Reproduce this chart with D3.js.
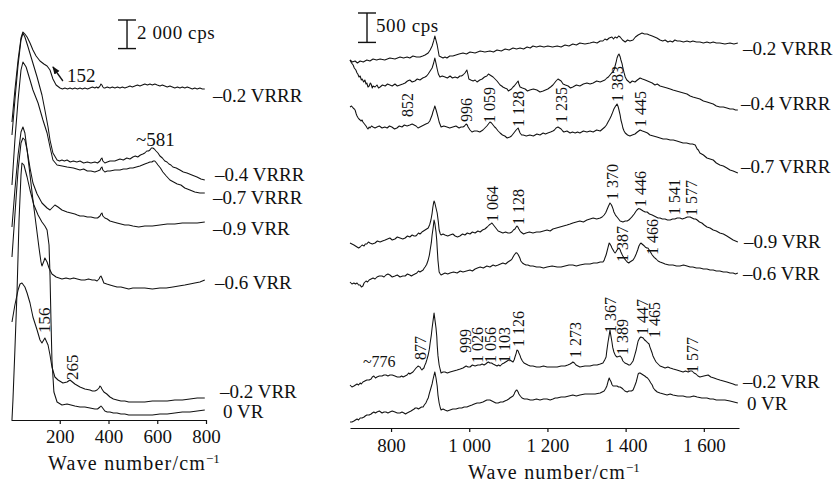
<!DOCTYPE html>
<html lang="en">
<head>
<meta charset="utf-8">
<title>Raman spectra</title>
<script src="https://d3js.org/d3.v7.min.js"></script>
<style>
  body { margin: 0; background: #fff; }
  svg { display: block; font-family: "Liberation Serif", "Times New Roman", serif; }
  .spec { fill: none; stroke: #111; stroke-width: 1.05; stroke-linejoin: round; }
  .lbl { font-size: 19px; fill: #111; }
  .peak { font-size: 16px; fill: #111; }
  .axis path, .axis line { stroke: #111; stroke-width: 1.2; }
  .axis text { font-family: "Liberation Serif", serif; font-size: 19px; fill: #111; }
</style>
</head>
<body>
<svg id="chart" width="835" height="484"></svg>
<script>
// ---- low wavenumber spectra: [wavenumber cm-1, cps incl. stacking offset] ----
var low02VRRR = [[4,20860],[16,23100],[29,25200],[41,26740],[49,27160],[57,27020],[66,26810],[78,26390],[90,25900],[103,25480],[119,25130],[135,24920],[148,24780],[160,24500],[172,23870],[185,23450],[201,23240],[211,23170],[221,23240],[232,23170],[242,23240],[252,23170],[262,23240],[273,23170],[283,23240],[293,23170],[303,23240],[314,23170],[324,23240],[334,23310],[344,23240],[351,23310],[357,23240],[362,23310],[365,23380],[369,23520],[373,23450],[377,23310],[381,23240],[385,23240],[395,23310],[406,23240],[416,23310],[426,23240],[437,23310],[447,23240],[457,23310],[467,23240],[478,23310],[488,23380],[498,23310],[508,23380],[519,23450],[529,23380],[539,23450],[549,23520],[560,23450],[570,23520],[580,23450],[590,23520],[600,23450],[611,23380],[621,23450],[631,23380],[641,23310],[652,23380],[662,23310],[672,23240],[683,23310],[693,23240],[703,23310],[713,23240],[723,23310],[734,23240],[744,23170],[754,23240],[764,23170],[775,23240],[785,23170],[795,23170]];
var low04VRRR = [[4,19950],[16,22400],[29,24850],[41,26600],[49,27090],[57,26810],[70,26110],[86,25200],[107,24010],[127,22750],[139,21700],[152,20510],[160,19600],[172,18690],[189,18200],[199,18130],[209,18200],[219,18130],[230,18200],[243,18060],[256,18130],[270,18060],[283,18130],[298,17990],[313,18060],[328,17990],[344,18060],[355,17990],[365,18130],[369,18270],[373,18340],[377,18130],[385,17990],[395,18060],[406,18130],[426,18130],[447,18270],[461,18200],[475,18340],[488,18270],[500,18410],[510,18480],[520,18410],[531,18550],[541,18620],[549,18690],[557,18830],[564,18830],[570,18900],[576,19040],[582,19040],[588,18970],[595,18830],[603,18690],[611,18480],[621,18340],[631,18130],[640,18060],[648,17920],[656,17850],[664,17710],[678,17640],[693,17500],[707,17360],[722,17290],[742,17150],[763,17010],[779,16870],[795,16800]];
var low07VRRR = [[4,16450],[16,19600],[29,22400],[41,24500],[49,25060],[62,24710],[78,23800],[90,23100],[111,22190],[131,21000],[148,20090],[160,19110],[172,18200],[189,17850],[210,17780],[230,17710],[256,17640],[283,17500],[298,17570],[313,17430],[328,17430],[344,17360],[355,17430],[365,17500],[369,17640],[373,17710],[377,17500],[385,17360],[395,17430],[406,17430],[426,17500],[447,17500],[461,17570],[475,17570],[488,17640],[500,17640],[514,17710],[529,17780],[539,17850],[549,17920],[560,17990],[570,18060],[578,18060],[584,18130],[590,18130],[597,17990],[603,17850],[613,17640],[623,17360],[637,17080],[652,16800],[667,16660],[682,16520],[697,16450],[713,16240],[734,16100],[754,15960],[775,15890],[795,15890]];
var low09VRR = [[4,13510],[16,16100],[29,18550],[41,20160],[49,20510],[57,20090],[66,18900],[78,17640],[90,16590],[107,15820],[127,15190],[148,14840],[160,14700],[172,14910],[180,15050],[193,14910],[209,14700],[230,14560],[246,14490],[262,14420],[272,14350],[283,14280],[298,14280],[313,14210],[328,14210],[344,14140],[355,14140],[365,14280],[369,14420],[373,14490],[377,14280],[385,14140],[395,14070],[406,13930],[420,13860],[435,13790],[451,13720],[467,13650],[483,13650],[500,13580],[524,13510],[549,13580],[580,13580],[611,13650],[641,13720],[672,13720],[703,13790],[734,13790],[764,13790],[795,13860]];
var low06VRR = [[4,11410],[16,14350],[29,17500],[41,19390],[49,19740],[57,19600],[66,18900],[78,17150],[90,15400],[103,13650],[115,12040],[123,11060],[127,10780],[135,11130],[139,11340],[148,11060],[156,10640],[168,10220],[185,10010],[209,9870],[226,9940],[242,9870],[257,9940],[272,9870],[288,9800],[303,9800],[318,9870],[333,9800],[344,9800],[353,9730],[361,9870],[365,10010],[369,10080],[373,9940],[381,9590],[393,9520],[406,9450],[420,9380],[435,9310],[451,9310],[467,9240],[483,9170],[500,9240],[524,9240],[549,9240],[580,9170],[611,9240],[637,9240],[664,9310],[688,9380],[713,9450],[734,9520],[754,9590],[775,9660],[795,9800]];
var low02VRR = [[4,6860],[16,8050],[29,9100],[37,9520],[45,9590],[57,9310],[66,8890],[78,8190],[90,7210],[107,6300],[119,5600],[127,5390],[139,5740],[152,5250],[160,4550],[168,3710],[180,3010],[193,2800],[213,2590],[230,2660],[242,2800],[262,2520],[283,2310],[303,2170],[324,2100],[334,2030],[344,2030],[353,2100],[361,2240],[365,2380],[369,2310],[373,2170],[381,1960],[393,1820],[406,1610],[420,1470],[435,1400],[451,1330],[467,1330],[483,1260],[500,1260],[524,1260],[549,1260],[580,1330],[611,1330],[641,1330],[672,1400],[703,1400],[734,1470],[764,1540],[795,1540]];
var low0VR = [[4,0],[8,1400],[16,4900],[25,9100],[33,14000],[41,17150],[45,17990],[53,17850],[66,17010],[78,16100],[94,15050],[111,14350],[127,13860],[139,13580],[148,13300],[156,12250],[160,10150],[164,7000],[168,4200],[176,1960],[189,1260],[209,1050],[230,1120],[262,980],[283,910],[303,910],[324,840],[344,770],[355,770],[365,910],[369,980],[373,910],[385,630],[395,560],[406,560],[420,490],[435,490],[451,420],[467,420],[483,350],[500,350],[524,350],[549,350],[580,350],[611,420],[641,420],[672,490],[703,560],[734,560],[764,630],[795,700]];

// ---- high wavenumber spectra ----
var hi02VRRR = [[695,6256],[701,6222],[708,6239],[714,6205],[721,6239],[729,6222],[738,6256],[746,6239],[754,6273],[763,6256],[772,6273],[784,6256],[797,6290],[810,6273],[823,6307],[832,6290],[841,6307],[848,6290],[856,6324],[865,6307],[874,6307],[881,6324],[887,6341],[895,6375],[900,6426],[905,6494],[909,6580],[912,6664],[915,6590],[918,6511],[923,6324],[928,6307],[933,6290],[938,6307],[943,6290],[950,6324],[958,6324],[966,6341],[974,6358],[984,6375],[993,6358],[1002,6392],[1015,6375],[1028,6409],[1040,6392],[1053,6409],[1062,6392],[1071,6426],[1082,6409],[1092,6443],[1102,6426],[1112,6460],[1121,6443],[1130,6460],[1139,6443],[1148,6477],[1156,6460],[1163,6494],[1172,6477],[1181,6494],[1191,6477],[1201,6494],[1213,6477],[1225,6494],[1235,6477],[1245,6511],[1255,6494],[1265,6528],[1274,6511],[1283,6545],[1296,6528],[1309,6545],[1318,6562],[1327,6545],[1335,6579],[1342,6579],[1347,6613],[1352,6596],[1358,6630],[1365,6647],[1369,6613],[1373,6647],[1378,6630],[1382,6664],[1386,6647],[1392,6596],[1399,6562],[1405,6596],[1411,6579],[1419,6596],[1425,6647],[1432,6681],[1437,6698],[1442,6715],[1448,6698],[1455,6698],[1461,6681],[1468,6664],[1474,6647],[1480,6630],[1484,6613],[1488,6596],[1495,6579],[1501,6596],[1508,6562],[1514,6579],[1520,6562],[1526,6596],[1532,6579],[1539,6579],[1548,6562],[1557,6579],[1565,6562],[1572,6579],[1581,6562],[1590,6562],[1599,6545],[1608,6562],[1616,6545],[1624,6562],[1632,6545],[1641,6545],[1654,6528],[1667,6545],[1677,6528],[1687,6545]];
var hi04VRRR = [[695,6256],[699,6205],[703,6171],[706,6120],[710,6086],[713,6035],[715,6018],[718,5967],[721,5984],[724,5916],[726,5933],[730,5882],[733,5916],[736,5848],[738,5865],[741,5797],[744,5814],[747,5865],[749,5848],[752,5780],[754,5814],[759,5797],[764,5831],[768,5780],[772,5797],[778,5831],[785,5814],[791,5848],[797,5831],[803,5814],[810,5848],[816,5814],[823,5831],[830,5848],[836,5865],[842,5899],[848,5916],[854,5882],[861,5899],[867,5933],[874,5916],[881,5950],[887,5967],[891,5984],[895,6018],[900,6069],[905,6120],[909,6205],[912,6290],[915,6200],[918,6103],[921,6018],[925,5967],[931,5984],[938,5967],[944,5950],[951,5984],[957,5950],[964,5967],[970,5950],[976,5984],[980,5984],[984,6001],[989,6035],[994,6086],[997,6001],[999,5933],[1004,5916],[1010,5899],[1015,5916],[1020,5882],[1027,5916],[1033,5933],[1039,5967],[1045,5984],[1049,6018],[1053,6001],[1057,5984],[1061,5967],[1066,5933],[1071,5899],[1075,5865],[1079,5831],[1083,5814],[1086,5797],[1091,5780],[1097,5763],[1100,5729],[1104,5746],[1108,5763],[1112,5797],[1115,5814],[1117,5831],[1121,5865],[1125,5899],[1127,5848],[1130,5797],[1136,5780],[1143,5763],[1149,5729],[1155,5746],[1164,5763],[1173,5746],[1181,5712],[1189,5729],[1195,5746],[1201,5763],[1208,5797],[1214,5831],[1218,5865],[1222,5899],[1227,5933],[1231,5916],[1235,5899],[1240,5848],[1246,5831],[1253,5814],[1259,5780],[1265,5797],[1274,5831],[1283,5814],[1292,5848],[1301,5865],[1309,5848],[1317,5865],[1326,5899],[1335,5882],[1341,5899],[1347,5916],[1352,5950],[1356,5967],[1360,6001],[1364,6035],[1368,6052],[1371,6100],[1373,6154],[1376,6230],[1378,6290],[1381,6340],[1383,6358],[1386,6310],[1388,6256],[1391,6190],[1393,6120],[1396,6040],[1399,5967],[1403,5916],[1406,5899],[1409,5882],[1411,5865],[1417,5899],[1424,5882],[1430,5916],[1437,5950],[1443,5933],[1450,5916],[1456,5899],[1462,5882],[1468,5865],[1475,5831],[1481,5848],[1488,5814],[1497,5797],[1506,5780],[1514,5763],[1521,5746],[1530,5729],[1539,5712],[1548,5695],[1557,5678],[1565,5644],[1572,5627],[1581,5610],[1590,5593],[1599,5559],[1608,5542],[1616,5525],[1624,5508],[1632,5474],[1641,5457],[1650,5457],[1659,5440],[1667,5423],[1675,5423],[1681,5406],[1687,5406]];
var hi07VRRR = [[695,5457],[699,5474],[703,5440],[706,5423],[708,5406],[711,5338],[713,5304],[716,5270],[718,5253],[721,5236],[723,5219],[726,5236],[728,5202],[732,5168],[736,5134],[739,5100],[741,5083],[744,5117],[746,5100],[750,5134],[754,5117],[759,5100],[764,5117],[770,5134],[777,5100],[784,5117],[790,5100],[796,5134],[802,5117],[809,5083],[815,5100],[821,5134],[828,5117],[834,5151],[841,5134],[848,5151],[854,5168],[859,5151],[864,5134],[869,5100],[874,5117],[879,5134],[884,5151],[889,5168],[895,5185],[899,5219],[902,5270],[905,5320],[907,5372],[910,5430],[912,5474],[915,5410],[918,5338],[921,5260],[923,5202],[926,5151],[928,5117],[935,5134],[943,5117],[950,5100],[958,5117],[966,5134],[974,5100],[979,5117],[984,5117],[988,5134],[992,5168],[995,5151],[997,5117],[1002,5066],[1007,5032],[1013,5049],[1020,5049],[1027,5032],[1035,5066],[1040,5100],[1045,5134],[1049,5168],[1053,5202],[1057,5185],[1061,5151],[1065,5117],[1068,5100],[1074,5049],[1079,5015],[1085,4981],[1091,4964],[1097,4930],[1104,4947],[1108,4964],[1112,4998],[1116,5032],[1120,5066],[1125,5100],[1127,5066],[1130,5015],[1134,4981],[1138,4981],[1146,4964],[1155,4981],[1164,4964],[1173,4998],[1181,4981],[1189,5015],[1195,4998],[1201,5015],[1208,5032],[1214,5049],[1218,5066],[1222,5100],[1227,5117],[1231,5100],[1235,5083],[1239,5049],[1242,5032],[1250,5049],[1258,5015],[1264,5032],[1271,5015],[1277,5032],[1283,5015],[1292,5049],[1301,5032],[1309,5049],[1317,5032],[1326,5066],[1335,5049],[1341,5083],[1347,5117],[1351,5151],[1355,5202],[1359,5250],[1363,5304],[1367,5370],[1370,5423],[1374,5470],[1378,5508],[1381,5460],[1383,5406],[1386,5320],[1388,5236],[1391,5160],[1393,5100],[1396,5049],[1399,5015],[1405,4981],[1411,4964],[1417,4981],[1424,4998],[1430,5032],[1437,5066],[1443,5049],[1450,5032],[1456,5015],[1462,4981],[1471,4964],[1480,4947],[1488,4930],[1496,4913],[1505,4913],[1514,4896],[1522,4896],[1531,4879],[1539,4862],[1547,4845],[1556,4845],[1565,4828],[1571,4828],[1578,4811],[1583,4743],[1586,4726],[1590,4675],[1599,4641],[1608,4590],[1616,4573],[1624,4556],[1632,4505],[1641,4471],[1650,4454],[1659,4420],[1667,4386],[1675,4369],[1681,4352],[1687,4335]];
var hi09VRR = [[695,3145],[700,3128],[705,3111],[709,3094],[713,3077],[717,3060],[721,3077],[726,3111],[731,3094],[734,3128],[738,3128],[742,3162],[746,3145],[752,3128],[759,3145],[765,3179],[772,3162],[778,3179],[785,3196],[791,3213],[797,3230],[803,3196],[810,3213],[816,3247],[823,3230],[830,3213],[836,3230],[842,3264],[848,3247],[854,3281],[859,3264],[863,3264],[866,3281],[870,3315],[874,3298],[877,3315],[879,3332],[883,3349],[887,3366],[891,3383],[895,3400],[899,3460],[902,3536],[905,3650],[907,3757],[909,3830],[910,3859],[912,3825],[915,3740],[918,3655],[921,3500],[923,3366],[926,3298],[928,3281],[933,3298],[938,3281],[945,3264],[951,3281],[958,3298],[964,3264],[970,3247],[976,3264],[983,3298],[989,3281],[995,3315],[1002,3298],[1008,3332],[1015,3315],[1022,3349],[1028,3332],[1034,3366],[1040,3383],[1046,3417],[1051,3451],[1055,3470],[1058,3485],[1062,3451],[1066,3417],[1070,3383],[1074,3349],[1080,3332],[1086,3315],[1093,3332],[1099,3315],[1104,3315],[1109,3332],[1113,3366],[1117,3383],[1120,3417],[1122,3434],[1125,3410],[1127,3383],[1130,3349],[1132,3332],[1139,3298],[1145,3315],[1154,3332],[1163,3315],[1172,3332],[1181,3332],[1190,3349],[1199,3366],[1207,3349],[1214,3383],[1223,3400],[1232,3417],[1241,3434],[1250,3451],[1258,3468],[1265,3485],[1274,3502],[1283,3519],[1292,3502],[1301,3536],[1309,3553],[1317,3570],[1326,3553],[1335,3570],[1340,3587],[1345,3621],[1349,3660],[1352,3706],[1356,3770],[1360,3825],[1363,3800],[1365,3774],[1368,3720],[1370,3672],[1374,3620],[1378,3587],[1382,3553],[1386,3519],[1390,3510],[1393,3502],[1399,3519],[1404,3519],[1408,3536],[1411,3553],[1416,3590],[1422,3638],[1426,3680],[1429,3706],[1433,3730],[1437,3723],[1441,3706],[1445,3689],[1450,3672],[1455,3672],[1461,3638],[1468,3621],[1473,3604],[1478,3587],[1483,3570],[1488,3570],[1494,3553],[1501,3553],[1507,3536],[1514,3536],[1520,3553],[1526,3553],[1532,3570],[1539,3570],[1545,3553],[1552,3570],[1558,3587],[1565,3587],[1570,3570],[1575,3553],[1579,3553],[1583,3536],[1589,3502],[1595,3485],[1601,3451],[1608,3417],[1616,3400],[1624,3366],[1632,3349],[1641,3315],[1650,3298],[1659,3264],[1667,3230],[1675,3196],[1681,3179],[1687,3162]];
var hi06VRR = [[695,2482],[700,2448],[705,2465],[709,2448],[713,2465],[717,2431],[721,2431],[724,2397],[728,2414],[731,2465],[736,2499],[740,2482],[744,2516],[749,2533],[754,2550],[759,2533],[764,2567],[770,2584],[777,2584],[782,2567],[787,2601],[792,2618],[797,2601],[803,2567],[810,2584],[816,2601],[823,2567],[830,2584],[836,2584],[842,2618],[848,2601],[852,2584],[856,2601],[861,2618],[866,2635],[870,2669],[874,2652],[878,2669],[882,2686],[885,2720],[887,2737],[891,2780],[895,2856],[898,2940],[900,3026],[903,3150],[905,3281],[908,3420],[910,3536],[912,3480],[915,3332],[917,3180],[918,3060],[920,2850],[923,2652],[926,2618],[928,2601],[933,2618],[938,2635],[945,2618],[951,2635],[960,2652],[969,2635],[977,2669],[984,2652],[993,2669],[1002,2686],[1008,2669],[1015,2703],[1021,2720],[1028,2737],[1036,2720],[1045,2754],[1053,2737],[1061,2771],[1067,2754],[1074,2771],[1080,2788],[1086,2805],[1093,2788],[1099,2822],[1103,2839],[1107,2856],[1110,2880],[1112,2907],[1115,2940],[1117,2958],[1120,2980],[1122,2975],[1125,2950],[1127,2924],[1130,2880],[1132,2839],[1136,2805],[1140,2788],[1145,2771],[1150,2771],[1156,2754],[1163,2754],[1172,2737],[1181,2737],[1190,2720],[1199,2737],[1212,2754],[1225,2737],[1235,2737],[1245,2754],[1255,2771],[1265,2771],[1274,2754],[1283,2771],[1296,2788],[1309,2788],[1318,2805],[1327,2805],[1335,2822],[1342,2822],[1345,2850],[1347,2890],[1350,2940],[1352,2992],[1355,3070],[1358,3145],[1360,3130],[1363,3094],[1365,3060],[1368,3026],[1370,3000],[1373,2975],[1375,2992],[1378,3026],[1381,3050],[1383,3060],[1386,3030],[1388,2992],[1391,2950],[1393,2924],[1398,2870],[1404,2822],[1408,2805],[1411,2822],[1415,2839],[1419,2856],[1423,2900],[1427,2958],[1431,3030],[1434,3094],[1437,3130],[1439,3145],[1442,3128],[1445,3111],[1448,3094],[1450,3077],[1454,3060],[1457,3060],[1460,3030],[1462,3009],[1465,2975],[1468,2941],[1473,2900],[1478,2873],[1483,2839],[1488,2822],[1495,2805],[1501,2788],[1511,2771],[1521,2771],[1530,2754],[1539,2754],[1548,2771],[1557,2754],[1565,2737],[1572,2737],[1581,2720],[1590,2720],[1599,2703],[1608,2703],[1616,2686],[1624,2686],[1632,2669],[1641,2669],[1650,2652],[1659,2652],[1667,2635],[1675,2635],[1681,2618],[1687,2635]];
var hi02VRR = [[695,731],[700,697],[705,714],[709,731],[713,748],[717,731],[721,765],[724,748],[728,782],[733,799],[738,816],[744,816],[749,833],[752,867],[756,884],[760,850],[764,867],[770,884],[777,884],[782,901],[787,901],[792,884],[797,901],[803,901],[810,884],[816,867],[823,867],[827,884],[831,867],[836,884],[841,901],[845,935],[848,918],[852,935],[856,952],[860,986],[864,1020],[867,1040],[869,1054],[871,1045],[874,1037],[877,1003],[879,986],[881,1003],[884,1020],[886,1060],[889,1105],[892,1170],[895,1241],[898,1340],[900,1445],[903,1580],[905,1700],[908,1850],[910,1955],[912,1850],[915,1700],[917,1550],[918,1411],[920,1230],[923,1071],[926,986],[928,935],[933,952],[938,952],[944,935],[951,952],[960,969],[969,986],[977,1003],[984,1020],[988,1037],[992,1054],[997,1037],[1002,1037],[1008,1071],[1015,1054],[1022,1071],[1028,1071],[1033,1088],[1038,1071],[1042,1088],[1045,1105],[1049,1122],[1053,1105],[1057,1105],[1061,1088],[1066,1071],[1071,1054],[1075,1071],[1079,1054],[1084,1088],[1089,1105],[1093,1122],[1097,1139],[1101,1156],[1104,1156],[1108,1139],[1112,1122],[1115,1160],[1117,1207],[1120,1270],[1122,1326],[1125,1310],[1127,1275],[1130,1230],[1132,1190],[1136,1139],[1140,1105],[1145,1088],[1150,1071],[1156,1054],[1163,1054],[1172,1037],[1181,1037],[1190,1054],[1199,1037],[1212,1037],[1225,1037],[1235,1054],[1245,1054],[1252,1071],[1258,1088],[1262,1105],[1265,1122],[1269,1105],[1273,1071],[1278,1054],[1283,1037],[1296,1054],[1309,1054],[1318,1071],[1327,1071],[1335,1088],[1342,1105],[1346,1150],[1350,1207],[1352,1320],[1355,1462],[1358,1580],[1360,1666],[1362,1580],[1365,1462],[1367,1370],[1370,1292],[1374,1230],[1378,1207],[1382,1215],[1386,1224],[1390,1190],[1393,1139],[1398,1105],[1404,1088],[1408,1071],[1411,1071],[1415,1100],[1419,1139],[1423,1230],[1427,1326],[1430,1420],[1432,1479],[1436,1530],[1439,1547],[1442,1540],[1445,1530],[1448,1500],[1452,1479],[1456,1450],[1460,1428],[1462,1380],[1465,1326],[1468,1270],[1470,1224],[1474,1170],[1478,1122],[1483,1088],[1488,1054],[1495,1037],[1501,1020],[1508,1037],[1514,1020],[1522,1003],[1531,986],[1539,969],[1547,952],[1553,969],[1560,952],[1565,969],[1570,969],[1575,935],[1580,918],[1585,884],[1590,867],[1600,884],[1611,901],[1618,867],[1626,850],[1633,833],[1641,816],[1650,799],[1659,782],[1667,765],[1675,748],[1681,731],[1687,731]];
var hi0VR = [[695,102],[700,102],[705,119],[709,136],[713,153],[717,136],[721,170],[726,170],[731,187],[734,204],[738,221],[744,221],[749,238],[752,255],[756,272],[760,255],[764,272],[770,289],[777,255],[782,272],[787,272],[792,255],[797,272],[803,289],[810,272],[816,255],[823,255],[828,272],[833,255],[837,238],[841,255],[846,272],[851,289],[855,306],[859,323],[862,340],[866,340],[870,323],[874,340],[878,357],[882,357],[885,391],[889,425],[892,470],[895,510],[898,590],[902,680],[905,750],[907,816],[910,900],[912,952],[915,850],[918,714],[920,560],[923,425],[926,340],[928,306],[933,323],[938,306],[944,289],[951,306],[958,323],[966,323],[974,340],[981,340],[987,357],[994,357],[1000,374],[1007,391],[1013,408],[1020,425],[1027,425],[1035,442],[1040,459],[1045,476],[1049,476],[1053,476],[1058,459],[1063,442],[1068,425],[1074,425],[1080,442],[1086,442],[1091,459],[1097,476],[1101,493],[1104,510],[1108,527],[1112,544],[1115,580],[1117,612],[1120,640],[1122,646],[1125,612],[1127,578],[1131,540],[1135,510],[1141,493],[1148,493],[1156,476],[1163,476],[1172,493],[1181,476],[1190,493],[1199,493],[1207,476],[1214,493],[1220,510],[1225,510],[1235,527],[1245,527],[1255,544],[1265,561],[1274,544],[1283,561],[1296,578],[1309,578],[1322,578],[1335,595],[1340,612],[1345,629],[1349,670],[1352,714],[1355,790],[1358,850],[1360,820],[1363,782],[1365,740],[1368,714],[1373,714],[1378,714],[1382,697],[1386,697],[1390,680],[1393,663],[1398,629],[1404,612],[1408,629],[1411,629],[1415,629],[1419,646],[1423,710],[1427,782],[1430,860],[1432,918],[1435,935],[1437,935],[1441,918],[1445,901],[1449,884],[1452,867],[1456,850],[1460,816],[1464,770],[1468,731],[1471,680],[1475,646],[1481,612],[1488,595],[1497,578],[1506,561],[1514,578],[1521,561],[1534,544],[1547,544],[1556,527],[1565,527],[1574,544],[1583,527],[1595,510],[1608,510],[1616,493],[1624,493],[1632,476],[1641,476],[1654,476],[1667,459],[1677,442],[1687,425]];

var seriesNames = ["–0.2 VRRR", "–0.4 VRRR", "–0.7 VRRR", "–0.9 VRR", "–0.6 VRR", "–0.2 VRR", "0 VR"];
var lowSeries = [low02VRRR, low04VRRR, low07VRRR, low09VRR, low06VRR, low02VRR, low0VR];
var hiSeries = [hi02VRRR, hi04VRRR, hi07VRRR, hi09VRR, hi06VRR, hi02VRR, hi0VR];

var lowTicks = [200, 400, 600, 800];
var hiTicks = [800, 1000, 1200, 1400, 1600];

// peak annotations: [text, wavenumber, cps]
var lowPeaksRot = [["156", 135, 6090], ["265", 250, 2800]];
var lowPeaksFlat = [["152", 230, 23660], ["~581", 513, 19180]];
var hiPeaksRot = [["852", 841, 5287], ["996", 992, 5202], ["1 059", 1051, 5185], ["1 128", 1125, 5117], ["1 235", 1235, 5185],
  ["1 383", 1378, 5542], ["1 445", 1437, 5117],
  ["1 064", 1058, 3502], ["1 128", 1125, 3451], ["1 370", 1365, 3876], ["1 446", 1437, 3757], ["1 541", 1524, 3621], ["1 577", 1567, 3604],
  ["1 387", 1391, 2822], ["1 466", 1468, 2941],
  ["877", 874, 1156], ["999", 989, 1275], ["1 026", 1022, 1105], ["1 056", 1053, 1105], ["1 103", 1089, 1105], ["1 126", 1125, 1377],
  ["1 273", 1271, 1190], ["1 367", 1360, 1615], ["1 389", 1391, 1241], ["1 447", 1442, 1581], ["1 465", 1473, 1530], ["1 577", 1570, 935]];
var hiPeaksFlat = [["~776", 728, 1037]];

// series label positions (px)
var lowLabelPos = [[213, 102], [215, 181], [213, 204], [213, 235], [215, 289], [220, 398], [223, 418]];
var hiLabelPos = [[743, 55], [741, 110], [741, 173], [744, 248], [743, 280], [743, 388], [747, 410]];

var svg = d3.select("#chart");

var xL = d3.scaleLinear().domain([0, 800]).range([11, 206]);
var yL = d3.scaleLinear().domain([0, 29400]).range([420, 0]);
var xR = d3.scaleLinear().domain([695, 1690]).range([350, 739]);
var yR = d3.scaleLinear().domain([0, 7276]).range([428, 0]);

var fmt = function (v) { return v >= 1000 ? String(v).replace(/(\d)(\d{3})$/, "$1 $2") : String(v); };

// axes
svg.append("g").attr("class", "axis").attr("transform", "translate(0,420)")
  .call(d3.axisBottom(xL).tickValues(lowTicks).tickSize(4).tickSizeOuter(0).tickPadding(5.5).tickFormat(fmt));
svg.append("g").attr("class", "axis").attr("transform", "translate(0,428)")
  .call(d3.axisBottom(xR).tickValues(hiTicks).tickSize(4).tickSizeOuter(0).tickPadding(6.5).tickFormat(fmt));

// spectra
var lineL = d3.line().x(d => xL(d[0])).y(d => yL(d[1]));
var lineR = d3.line().x(d => xR(d[0])).y(d => yR(d[1]));

svg.append("g").selectAll("path").data(lowSeries).enter()
  .append("path").attr("class", "spec").attr("d", lineL);
svg.append("g").selectAll("path").data(hiSeries).enter()
  .append("path").attr("class", "spec").attr("d", lineR);

// series labels
svg.append("g").selectAll("text").data(seriesNames).enter()
  .append("text").attr("class", "lbl")
  .attr("x", (d, i) => lowLabelPos[i][0]).attr("y", (d, i) => lowLabelPos[i][1]).text(d => d);
svg.append("g").selectAll("text").data(seriesNames).enter()
  .append("text").attr("class", "lbl")
  .attr("x", (d, i) => hiLabelPos[i][0]).attr("y", (d, i) => hiLabelPos[i][1]).text(d => d);

// rotated peak labels
function rotLabels(data, xs, ys, size) {
  svg.append("g").selectAll("text").data(data).enter()
    .append("text").attr("class", "peak").style("font-size", size + "px")
    .attr("transform", d => "translate(" + xs(d[1]) + "," + ys(d[2]) + ") rotate(-90)")
    .attr("dy", "0.35em").text(d => d[0]);
}
rotLabels(hiPeaksRot, xR, yR, 16);
rotLabels(lowPeaksRot, xL, yL, 17);

svg.append("g").selectAll("text").data(lowPeaksFlat).enter()
  .append("text").attr("class", "lbl").attr("x", d => xL(d[1])).attr("y", d => yL(d[2])).text(d => d[0]);
svg.append("g").selectAll("text").data(hiPeaksFlat).enter()
  .append("text").attr("class", "peak").attr("x", d => xR(d[1])).attr("y", d => yR(d[2])).text(d => d[0]);

// arrow to the 152 shoulder
svg.append("defs").append("marker").attr("id", "ah").attr("viewBox", "0 0 10 10")
  .attr("refX", 9).attr("refY", 5).attr("markerWidth", 6).attr("markerHeight", 6).attr("orient", "auto")
  .append("path").attr("d", "M0,1 L10,5 L0,9 Z").attr("fill", "#111");
svg.append("line").attr("x1", xL(213)).attr("y1", yL(23730)).attr("x2", xL(172)).attr("y2", yL(24710))
  .attr("stroke", "#111").attr("stroke-width", 1.3).attr("marker-end", "url(#ah)");

// scale bars
function scaleBar(xs, ys, v, top, size, lx, ly, text) {
  var g = svg.append("g").attr("stroke", "#111").attr("stroke-width", 1.4);
  var x = xs(v), y1 = ys(top), y2 = ys(top - size);
  g.append("line").attr("x1", x).attr("x2", x).attr("y1", y1).attr("y2", y2);
  g.append("line").attr("x1", x - 9).attr("x2", x + 9).attr("y1", y1).attr("y2", y1);
  g.append("line").attr("x1", x - 9).attr("x2", x + 9).attr("y1", y2).attr("y2", y2);
  svg.append("text").attr("class", "lbl").style("letter-spacing", "0.6px")
    .attr("x", xs(lx)).attr("y", ys(ly)).text(text);
}
scaleBar(xL, yL, 476, 28000, 2000, 517, 26670, "2 000 cps");
scaleBar(xR, yR, 738.5, 7055, 500, 761.5, 6732, "500 cps");

// axis titles
function axisTitle(cx, y) {
  var t = svg.append("text").attr("class", "lbl").style("font-size", "20px").style("letter-spacing", "1.2px")
    .attr("x", cx).attr("y", y).attr("text-anchor", "middle");
  t.append("tspan").text("Wave number/cm");
  t.append("tspan").attr("dy", -7).style("font-size", "13px").style("letter-spacing", "0px").text("\u22121");
}
axisTitle(134, 470);
axisTitle(554, 479);
</script>
</body>
</html>
